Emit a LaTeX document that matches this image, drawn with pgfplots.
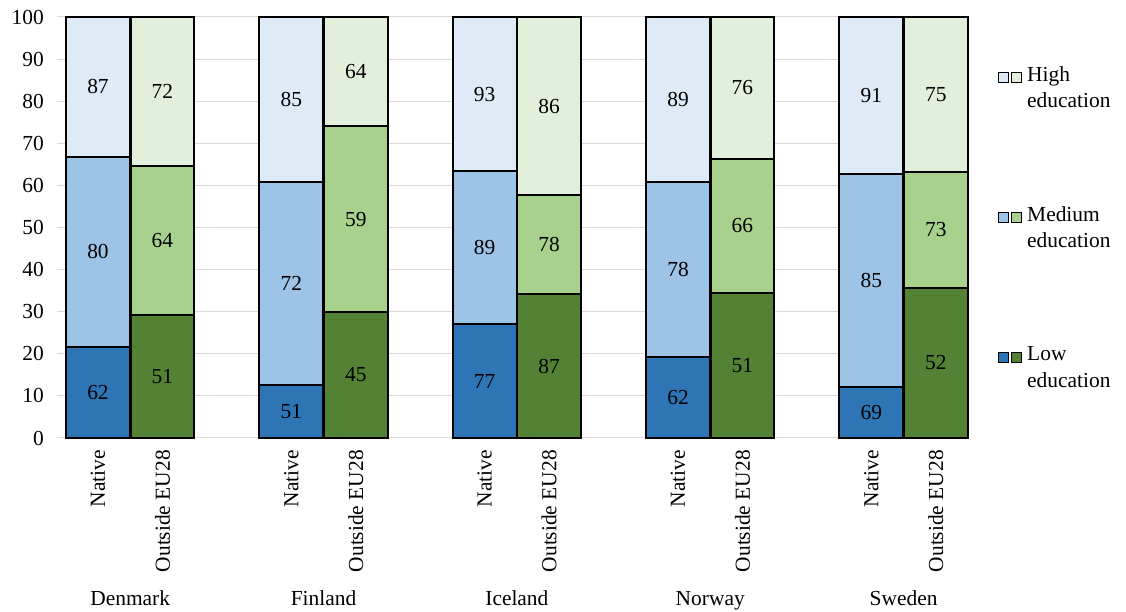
\documentclass[border=0pt]{standalone}
\usepackage{pgfplots}
\pgfplotsset{compat=1.18}
\usepackage{fontspec}
\setmainfont{Liberation Serif}
\definecolor{bdark}{HTML}{2E75B6}
\definecolor{bmed}{HTML}{9DC3E6}
\definecolor{blight}{HTML}{DEEBF7}
\definecolor{gdark}{HTML}{548235}
\definecolor{gmed}{HTML}{A9D18E}
\definecolor{glight}{HTML}{E2EFDA}
\definecolor{gridgray}{HTML}{D9D9D9}
\newcommand{\rl}[1]{\rotatebox{90}{#1}}
\begin{document}
\begin{tikzpicture}[x=1bp,y=1bp]
\useasboundingbox (0,0) rectangle (1126,612);
\begin{axis}[
  at={(57bp,174bp)}, anchor=south west,
  scale only axis, width=911bp, height=421bp,
  xmin=-0.636, xmax=13.5, ymin=0, ymax=100,
  ytick={0,10,...,100},
  xtick={0,1,3,4,6,7,9,10,12,13},
  xticklabels={\rl{Native},\rl{Outside EU28},\rl{Native},\rl{Outside EU28},\rl{Native},\rl{Outside EU28},\rl{Native},\rl{Outside EU28},\rl{Native},\rl{Outside EU28}},
  xticklabel style={anchor=north, font=\fontsize{21.5}{24}\selectfont, inner sep=2bp, yshift=-10bp},
  extra x ticks={0.5,3.5,6.5,9.5,12.5},
  extra x tick labels={Denmark,Finland,Iceland,Norway,Sweden},
  extra x tick style={grid=none, major tick length=0pt, xticklabel style={anchor=base, yshift=-158bp}},
  yticklabel style={font=\fontsize{21.5}{24}\selectfont, inner sep=2bp, xshift=-11bp},
  /pgf/number format/assume math mode=true,
  ymajorgrids, grid style={gridgray, line width=1bp},
  axis line style={draw=none},
  major tick length=0pt,
  clip=false,
  every node near coord/.style={anchor=center, font=\fontsize{21.5}{24}\selectfont, text=black},
]
% High (full bar), drawn first
\addplot[ybar, bar width=0.99, bar shift=0pt, fill=blight, draw=black, line width=2.1bp] coordinates {(0,100) (3,100) (6,100) (9,100) (12,100)};
\addplot[ybar, bar width=0.99, bar shift=0pt, fill=glight, draw=black, line width=2.1bp] coordinates {(1,100) (4,100) (7,100) (10,100) (13,100)};
% Medium (cumulative top)
\addplot[ybar, bar width=0.99, bar shift=0pt, fill=bmed, draw=black, line width=2.1bp] coordinates {(0,66.8) (3,60.8) (6,63.4) (9,60.8) (12,62.6)};
\addplot[ybar, bar width=0.99, bar shift=0pt, fill=gmed, draw=black, line width=2.1bp] coordinates {(1,64.5) (4,74.1) (7,57.7) (10,66.3) (13,63.2)};
% Low
\addplot[ybar, bar width=0.99, bar shift=0pt, fill=bdark, draw=black, line width=2.1bp] coordinates {(0,21.6) (3,12.5) (6,27.0) (9,19.3) (12,12.2)};
\addplot[ybar, bar width=0.99, bar shift=0pt, fill=gdark, draw=black, line width=2.1bp] coordinates {(1,29.2) (4,29.9) (7,34.2) (10,34.5) (13,35.7)};
% Labels (employment rates) at segment centres
\addplot[only marks, mark=none, nodes near coords, point meta=explicit symbolic] table[meta=lab] {
x y lab
0 10.8 62
0 44.2 80
0 83.4 87
3 6.25 51
3 36.65 72
3 80.4 85
6 13.5 77
6 45.2 89
6 81.7 93
9 9.65 62
9 40.05 78
9 80.4 89
12 6.1 69
12 37.4 85
12 81.3 91
1 14.6 51
1 46.85 64
1 82.25 72
4 14.95 45
4 52.0 59
4 87.05 64
7 17.1 87
7 45.95 78
7 78.85 86
10 17.25 51
10 50.4 66
10 83.15 76
13 17.85 52
13 49.45 73
13 81.6 75
};
\end{axis}
% Legend
\foreach \yc/\ca/\cb/\txt in {535/blight/glight/High, 395/bmed/gmed/Medium, 255/bdark/gdark/Low}{
  \draw[fill=\ca, line width=0.8bp] (998,\yc-5) rectangle (1008,\yc+5);
  \draw[fill=\cb, line width=0.8bp] (1011,\yc-5) rectangle (1021,\yc+5);
  \node[anchor=north west, align=left, inner sep=0pt, font=\fontsize{21.5}{27}\selectfont] at (1027,\yc+11) {\txt\\education};
}
\end{tikzpicture}
\end{document}
